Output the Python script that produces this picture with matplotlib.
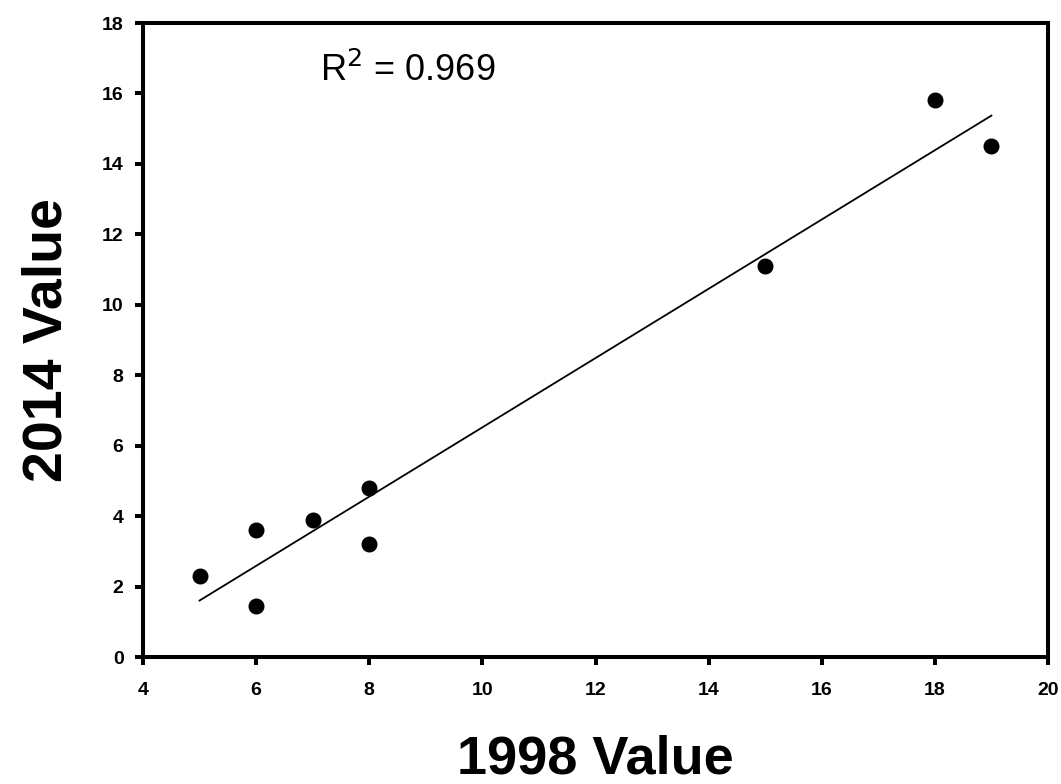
import numpy as np
import matplotlib
matplotlib.use("Agg")
import matplotlib.pyplot as plt

plt.rcParams['font.family'] = ['Liberation Sans', 'DejaVu Sans']

x_1998 = [5, 6, 6, 7, 8, 8, 15, 18, 19]
y_2014 = [2.3, 3.6, 1.45, 3.9, 4.8, 3.2, 11.1, 15.8, 14.5]
x_ticks = [4, 6, 8, 10, 12, 14, 16, 18, 20]
y_ticks = [0, 2, 4, 6, 8, 10, 12, 14, 16, 18]
r2_text = "R$^2$ = 0.969"

fig = plt.figure(figsize=(10.61, 7.84), dpi=100)
ax = fig.add_axes([143/1061, 1 - 657/784, (1048-143)/1061, (657-23)/784])

ax.plot(x_1998, y_2014, 'o', color='black', markersize=10.5, zorder=3)

slope, intercept = np.polyfit(x_1998, y_2014, 1)
xf = np.array([min(x_1998), max(x_1998)])
ax.plot(xf, slope * xf + intercept, color='black', linewidth=1.3)

ax.set_xlim(4, 20)
ax.set_ylim(0, 18)
ax.set_xticks(x_ticks)
ax.set_yticks(y_ticks)
ax.tick_params(direction='out', length=6, width=2.9, labelsize=14)
ax.tick_params(axis='y', pad=8)
ax.tick_params(axis='x', pad=12)
for lab in ax.get_xticklabels() + ax.get_yticklabels():
    lab.set_fontweight('bold')
for s in ax.spines.values():
    s.set_linewidth(2.9)

ax.set_xlabel("1998 Value", fontsize=39, fontweight='bold')
ax.xaxis.label.set_va('baseline')
ax.xaxis.set_label_coords(0.5, (657 - 773) / (657 - 23))

ax.set_ylabel("2014 Value", fontsize=40, fontweight='bold')
ax.yaxis.label.set_va('baseline')
ax.yaxis.set_label_coords((62 - 143) / (1048 - 143), 0.5)

ax.text(7.13, 16.35, r2_text, fontsize=26, ha='left', va='baseline')

fig.savefig("out.png", dpi=100)
